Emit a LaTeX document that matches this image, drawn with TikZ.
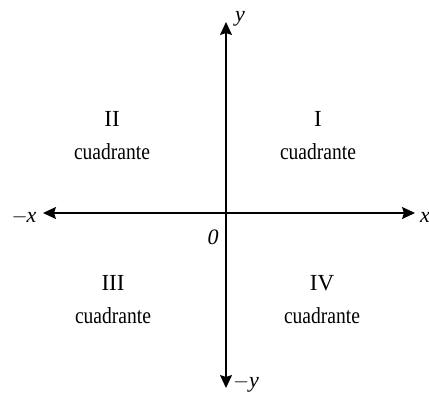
\documentclass[tikz,border=0pt]{standalone}
\usepackage{fontspec}
\setmainfont{Liberation Serif}
\usetikzlibrary{arrows.meta}
\newcommand{\narrow}[1]{\scalebox{0.85}[1]{#1}}
\begin{document}
\begin{tikzpicture}[x=1pt,y=-1pt,
  axis/.style={line width=1.6pt,-{Stealth[length=13pt,width=12pt,inset=2pt]}},
  quad/.style={font=\fontsize{23}{27}\selectfont,align=center,inner sep=0pt},
  lab/.style={font=\fontsize{22}{24}\selectfont\itshape,inner sep=0pt}]
\useasboundingbox (0,0) rectangle (429,399);
\coordinate (o) at (226,213);
\coordinate (xl) at (43,213);
\coordinate (xr) at (415,213);
\coordinate (yt) at (226,22);
\coordinate (yb) at (226,388);
\draw[axis] (o) -- (xl);
\draw[axis] (o) -- (xr);
\draw[axis] (o) -- (yt);
\draw[axis] (o) -- (yb);
\node[lab] (nx) at (24,217) {$-$\kern-1pt x};
\node[lab,anchor=west] (px) at (420,217) {x};
\node[lab] (py) at (240,19) {y};
\node[lab] (ny) at (246,384) {$-$y};
\node[lab] (zero) at (213,237) {0};
\node[quad] (q2) at (112,136) {II\\[6pt]\narrow{cuadrante}};
\node[quad] (q1) at (318,136) {I\\[6pt]\narrow{cuadrante}};
\node[quad] (q3) at (113,300) {III\\[6pt]\narrow{cuadrante}};
\node[quad] (q4) at (322,300) {IV\\[6pt]\narrow{cuadrante}};
\end{tikzpicture}
\end{document}
